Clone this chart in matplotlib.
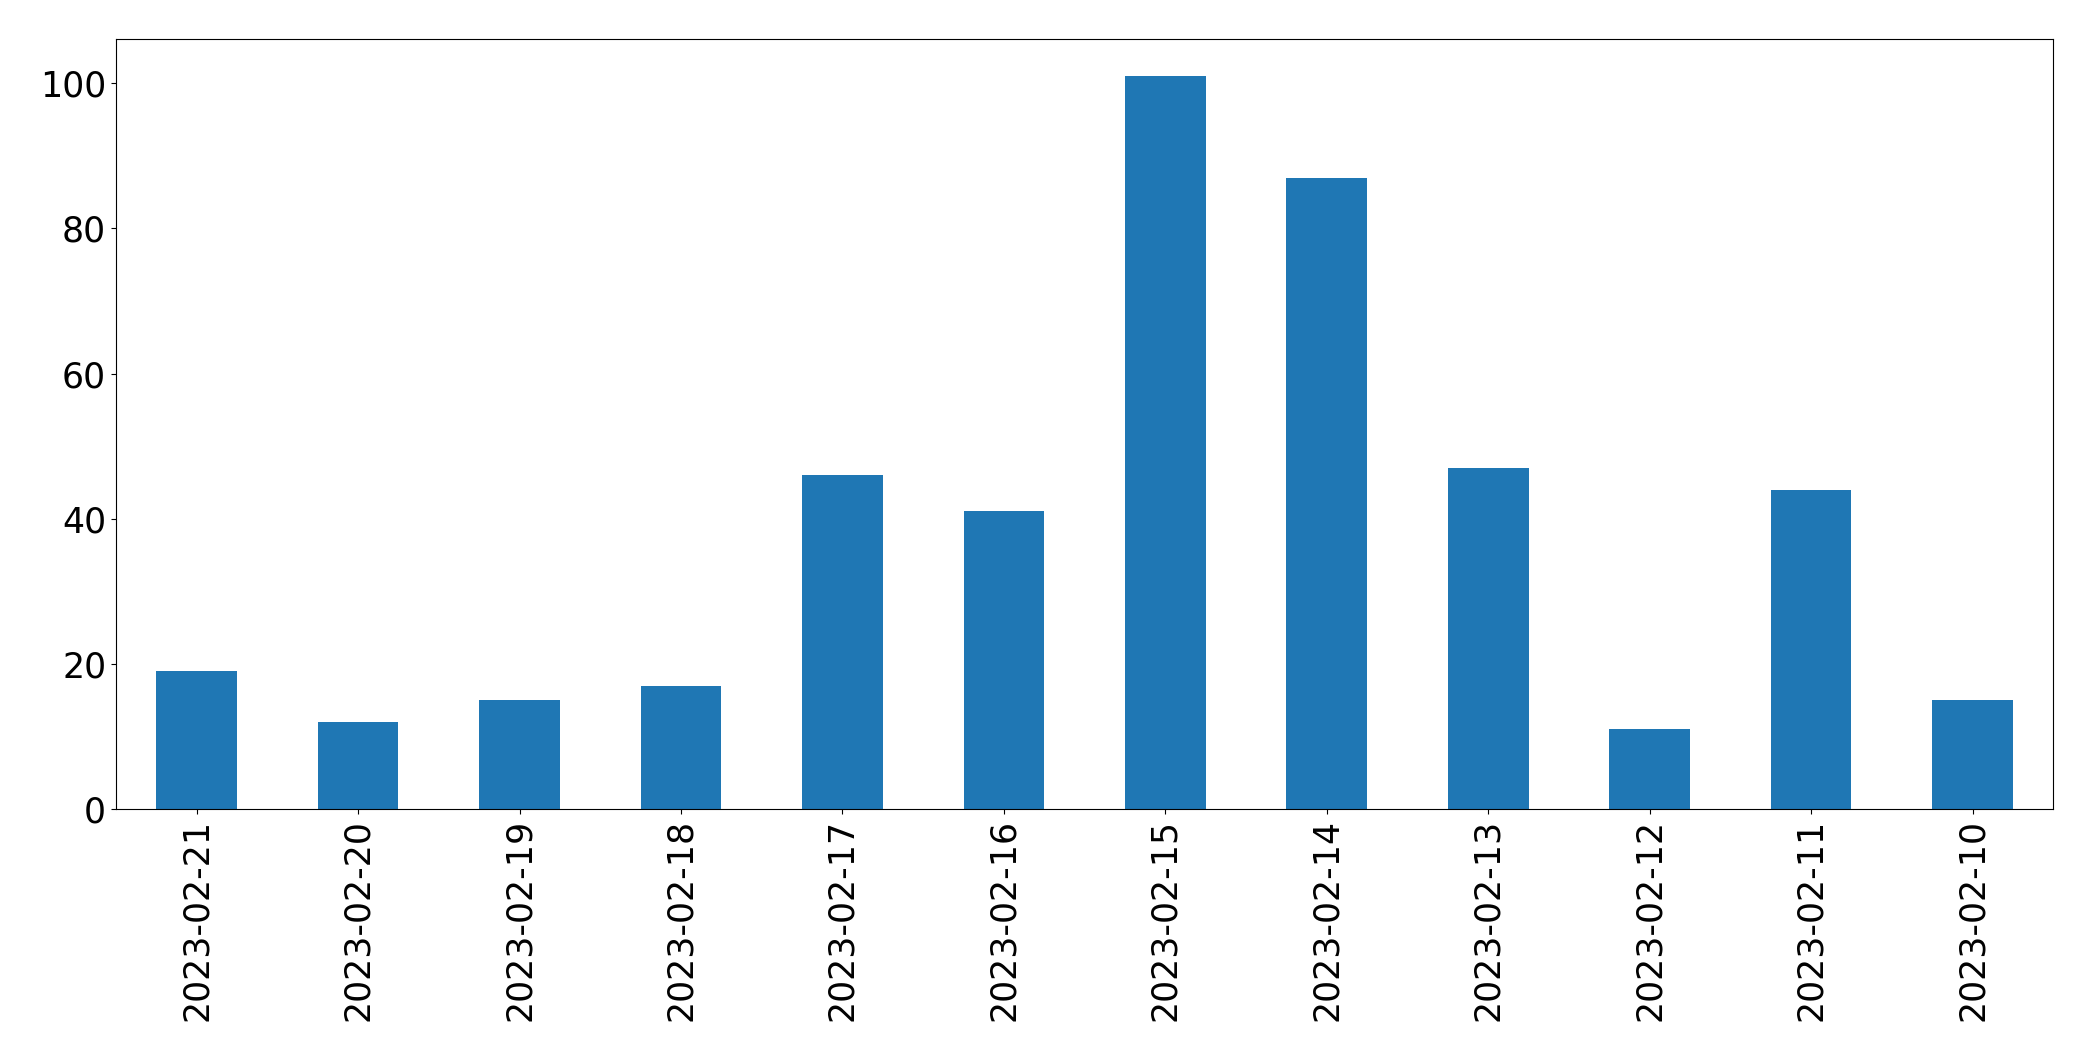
import pandas as pd
import matplotlib
matplotlib.use('Agg')
import matplotlib.pyplot as plt

# fechas y cantidades
fechas = ['2023-02-21', '2023-02-20', '2023-02-19', '2023-02-18',
          '2023-02-17', '2023-02-16', '2023-02-15', '2023-02-14',
          '2023-02-13', '2023-02-12', '2023-02-11', '2023-02-10']
cantidades = [19, 12, 15, 17, 46, 41, 101, 87, 47, 11, 44, 15]


def grafico(fechas, cantidades):
    serie = pd.Series(cantidades, index=fechas)
    fig, ax = plt.subplots(figsize=(20.93, 10.61), dpi=100)
    serie.plot(kind='bar', ax=ax, color='#1f77b4', fontsize=25)
    ax.tick_params(axis='both', labelsize=25)
    plt.subplots_adjust(left=0.0554, right=0.981, top=0.963, bottom=0.2375)
    fig.savefig('out.png', dpi=100)


if __name__ == '__main__':
    grafico(fechas, cantidades)
